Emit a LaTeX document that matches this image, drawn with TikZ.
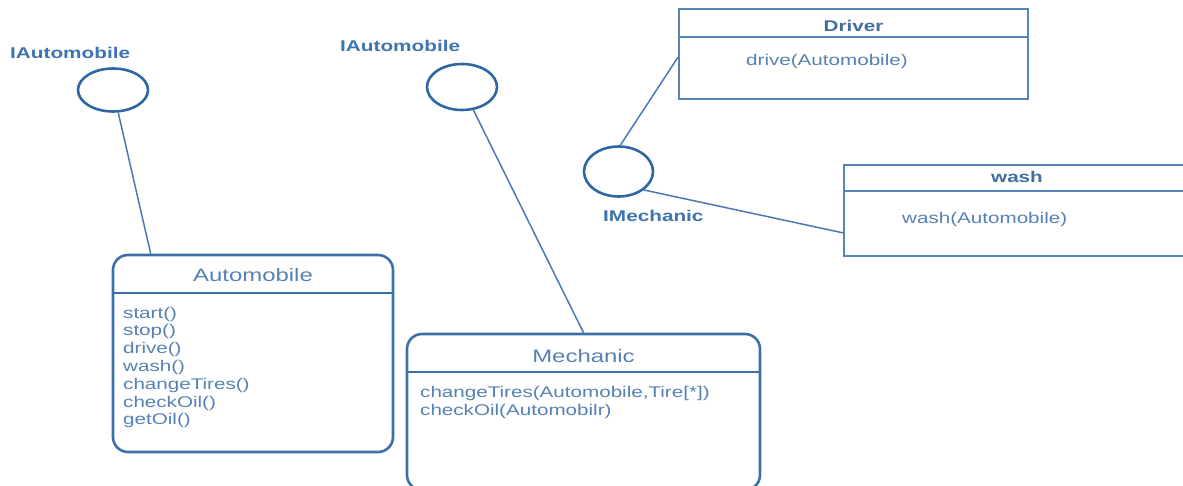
\documentclass[tikz,border=0pt]{standalone}
\usepackage{fontspec}
\setmainfont{Liberation Sans}
\newfontfamily\umlfont[FakeStretch=1.33]{Liberation Sans}
\usetikzlibrary{shapes.geometric,calc}

\definecolor{circlec}{HTML}{2F67A5}
\definecolor{boxc}{HTML}{3D70A8}
\definecolor{plainc}{HTML}{5584B8}
\definecolor{linec}{HTML}{4A7AB0}
\definecolor{textc}{HTML}{5581B4}
\definecolor{labelc}{HTML}{3E74B0}
\definecolor{headc}{HTML}{3F6EA2}

\begin{document}
\begin{tikzpicture}[x=1pt,y=-1pt,
  iface/.style={ellipse, draw=circlec, line width=2.6pt, inner sep=0pt},
  conn/.style={draw=linec, line width=1.5pt},
  classbox/.style={draw=boxc, line width=2.6pt, rounded corners=15pt, inner sep=0pt},
  plainbox/.style={draw=plainc, line width=1.8pt, inner sep=0pt},
  divider/.style={draw=boxc, line width=2pt},
  thindivider/.style={draw=plainc, line width=1.5pt},
  ilabel/.style={font=\umlfont\bfseries\fontsize{15.6}{18}\selectfont, text=labelc, anchor=base west, inner sep=0pt},
  ctitle/.style={font=\umlfont\fontsize{18}{22}\selectfont, text=textc, anchor=base, inner sep=0pt},
  btitle/.style={font=\umlfont\bfseries\fontsize{15.5}{18}\selectfont, text=headc, anchor=base, inner sep=0pt},
  method/.style={font=\umlfont\fontsize{15.5}{18}\selectfont, text=textc, anchor=base west, inner sep=0pt}
]
\useasboundingbox (0,0) rectangle (1183,486);
\clip (0,0) rectangle (1183,486);

% interface lollipops
\node[iface, minimum width=70pt, minimum height=43pt] (c1) at (113,90) {};
\node[iface, minimum width=70pt, minimum height=46pt] (c2) at (462,87) {};
\node[iface, minimum width=69pt, minimum height=50pt] (c3) at (618.5,171.5) {};

\node[ilabel] (l1) at (10,59) {IAutomobile};
\node[ilabel] (l2) at (340,52) {IAutomobile};
\node[ilabel] (l3) at (603,222) {IMechanic};

% Automobile class
\node[classbox, minimum width=280pt, minimum height=197pt] (auto) at (253,353.5) {};
\draw[divider] ($(auto.north west)+(0,39)$) -- ($(auto.north east)+(0,39)$);
\node[ctitle] (autoT) at (253,282) {Automobile};
\foreach [count=\i] \t in {start(),stop(),drive(),wash(),changeTires(),checkOil(),getOil()}
  \node[method] (am\i) at (123,{318+17.8*(\i-1)}) {\t};

% Mechanic class
\node[classbox, minimum width=353pt, minimum height=156pt] (mech) at (583.5,412) {};
\draw[divider] ($(mech.north west)+(0,39)$) -- ($(mech.north east)+(0,39)$);
\node[ctitle] (mechT) at (583.5,362) {Mechanic};
\node[method] (mm1) at (420,397) {changeTires(Automobile,Tire[*])};
\node[method] (mm2) at (420,415.5) {checkOil(Automobilr)};

% Driver class
\node[plainbox, minimum width=349pt, minimum height=90pt] (driver) at (853.5,54) {};
\draw[thindivider] ($(driver.north west)+(0,29)$) -- ($(driver.north east)+(0,29)$);
\node[btitle] (driverT) at (853.5,32) {Driver};
\node[method] (dm1) at (746,66) {drive(Automobile)};

% wash class
\node[plainbox, minimum width=346pt, minimum height=91pt] (wash) at (1017,210.5) {};
\draw[thindivider] ($(wash.north west)+(0,27)$) -- ($(wash.north east)+(0,27)$);
\node[btitle] (washT) at (1017,183) {wash};
\node[method] (wm1) at (902,224) {wash(Automobile)};

% connectors
\draw[conn] (c1) -- ($(auto.north west)+(39,0)$);
\draw[conn] (c2) -- (mech.north);
\draw[conn] (c3.86) -- ($(driver.west)+(0,3)$);
\draw[conn] (c3.-36) -- ($(wash.south west)+(0,-24)$);
\end{tikzpicture}
\end{document}
